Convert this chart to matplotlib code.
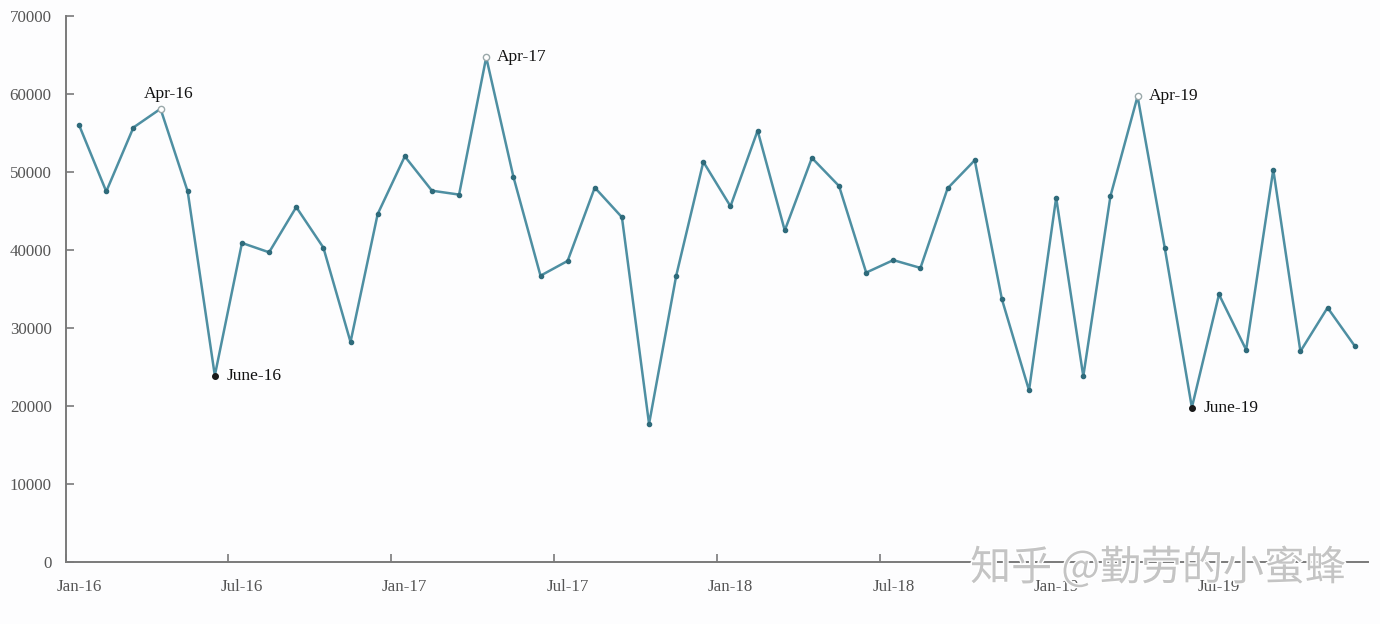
import matplotlib
matplotlib.use('Agg')
import matplotlib.pyplot as plt
import matplotlib.patheffects as pe

# monthly values Jan-16 .. Dec-19
values = [56000, 47500, 55700, 58100, 47500, 23900, 40900, 39700, 45500, 40300, 28200, 44600,
          52000, 47600, 47100, 64700, 49400, 36700, 38600, 48000, 44200, 17700, 36700, 51300,
          45600, 55300, 42500, 51800, 48200, 37100, 38700, 37700, 47900, 51500, 33700, 22000,
          46700, 23800, 46900, 59700, 40300, 19800, 34300, 27200, 50300, 27000, 32600, 27700]
tick_labels = ['Jan-16', 'Jul-16', 'Jan-17', 'Jul-17', 'Jan-18', 'Jul-18', 'Jan-19', 'Jul-19']
peak_idx = [3, 15, 39]
peak_labels = ['Apr-16', 'Apr-17', 'Apr-19']
low_idx = [5, 41]
low_labels = ['June-16', 'June-19']
yticks = [0, 10000, 20000, 30000, 40000, 50000, 60000, 70000]

plt.rcParams['font.family'] = ['Liberation Serif', 'DejaVu Serif']

fig = plt.figure(figsize=(13.8, 6.24), dpi=100, facecolor='#fdfdfe')
ax = fig.add_axes([0.0475, 0.0994, 0.9440, 0.8750])
ax.set_facecolor('#fdfdfe')

x = list(range(len(values)))
ax.plot(x, values, color='#4e8fa2', lw=1.8, marker='o', ms=3.0,
        mfc='#2f6b7b', mec='#2f6b7b', zorder=3)

# highlighted peaks (hollow) and lows (black)
ax.plot(peak_idx, [values[i] for i in peak_idx], ls='none', marker='o', ms=4.5,
        mfc='white', mec='#9aa8aa', mew=1, zorder=4)
ax.plot(low_idx, [values[i] for i in low_idx], ls='none', marker='o', ms=4,
        mfc='#1a1a1a', mec='#1a1a1a', zorder=4)

offsets = {3: (-0.6, 1900), 15: (0.4, 0), 39: (0.4, 0)}
for i, lab in zip(peak_idx, peak_labels):
    dx, dy = offsets[i]
    ax.text(i + dx, values[i] + dy, lab, fontsize=12.5, color='#111111',
            ha='left', va='center')
for i, lab in zip(low_idx, low_labels):
    ax.text(i + 0.45, values[i], lab, fontsize=12.5, color='#111111',
            ha='left', va='center')

ax.set_xlim(-0.5, 47.5)
ax.set_ylim(0, 70000)
ax.set_yticks(yticks)
ax.set_yticklabels([str(v) for v in yticks])

# ticks between categories, labels centred on the month
ax.set_xticks([i - 0.5 for i in range(0, 48, 6)])
ax.set_xticklabels([])
ax.set_xticks(list(range(0, 48, 6)), minor=True)
ax.set_xticklabels(tick_labels, minor=True)
ax.tick_params(axis='x', which='major', direction='in', length=6, color='#7a7a7a', width=1.2)
ax.tick_params(axis='x', which='minor', length=0, pad=12, labelsize=12.2, labelcolor='#555555')
ax.tick_params(axis='y', direction='in', length=6, color='#7a7a7a', width=1.2,
               pad=10, labelsize=12.2, labelcolor='#555555')

for s in ['top', 'right']:
    ax.spines[s].set_visible(False)
for s in ['left', 'bottom']:
    ax.spines[s].set_color('#7a7a7a')
    ax.spines[s].set_linewidth(1.4)

fig.text(0.703, 0.090, '知乎 @勤劳的小蜜蜂', fontsize=29.5, color='#c4c4c4',
         family=['Noto Sans CJK SC', 'DejaVu Sans'], ha='left', va='center',
         path_effects=[pe.withStroke(linewidth=2, foreground='white')], zorder=10)

fig.savefig('out.png', dpi=100, facecolor=fig.get_facecolor())
